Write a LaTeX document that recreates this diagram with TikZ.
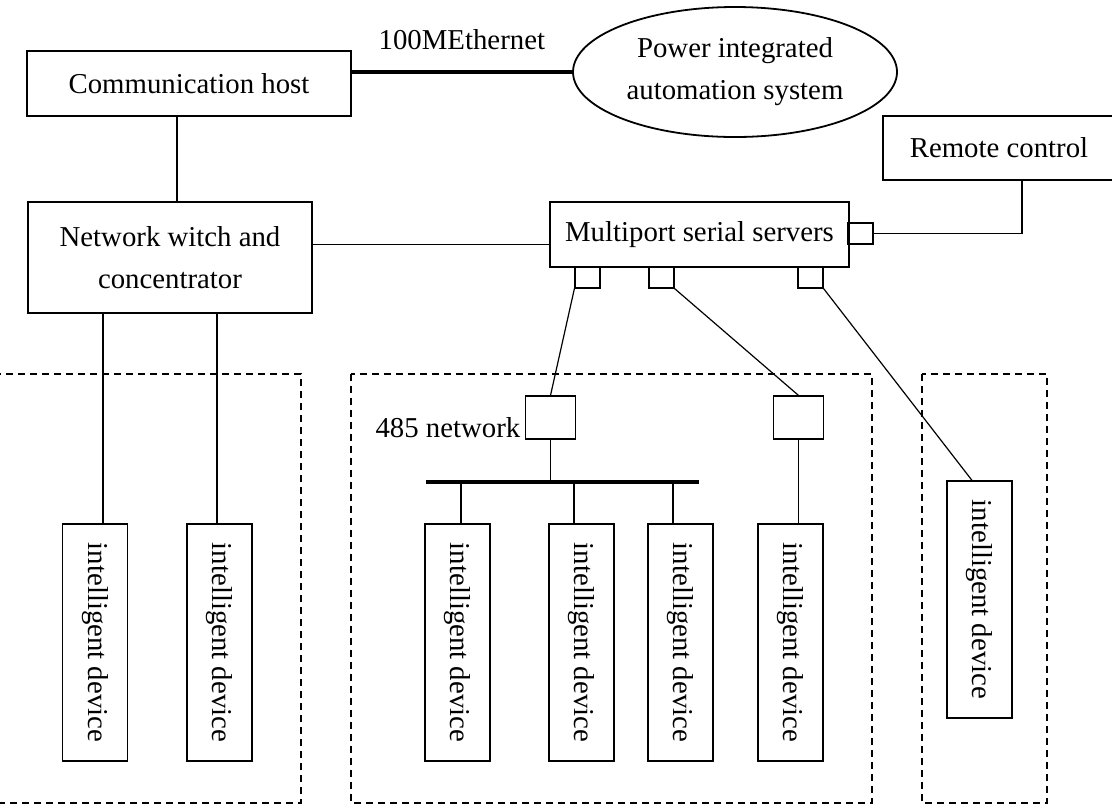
\documentclass[tikz,border=0pt]{standalone}
\usepackage{fontspec}
\setmainfont{Liberation Serif}
\usepackage{graphicx}
\usetikzlibrary{shapes.geometric}

\begin{document}
\begin{tikzpicture}[
  x=0.5pt, y=-0.5pt,
  line width=0.6pt,
  every node/.style={font=\fontsize{14.4}{21}\selectfont, inner sep=0pt},
  box/.style={draw, rectangle, align=center},
  port/.style={draw, minimum width=12.5pt, minimum height=10.5pt},
  conv/.style={draw, minimum width=25pt, minimum height=21.5pt},
  device/.style={draw, minimum width=32.5pt, minimum height=118.5pt},
  group/.style={dash pattern=on 3.5pt off 2.5pt},
  ethernet/.style={line width=1.7pt},
  bus/.style={line width=2pt}
]
  \useasboundingbox (0,0) rectangle (1112,805);

  \node[box, minimum width=162pt, minimum height=32.5pt] (host) at (189,83.5) {Communication host};
  \node[draw, ellipse, line width=0.9pt, minimum width=162pt, minimum height=65pt, align=center] (power) at (735,72) {Power integrated\\automation system};
  \node[box, minimum width=142pt, minimum height=55.5pt] (switch) at (170,257.5) {Network witch and\\concentrator};
  \node[box, minimum width=149.5pt, minimum height=32.5pt] (serial) at (699.5,234.5) {Multiport serial servers};
  \node[box, minimum width=116pt, minimum height=32pt] (remote) at (999,148) {Remote control};

  \node[port] (pR) at (860.5,233.5) {};
  \node[port] (p1) at (587.5,277.5) {};
  \node[port] (p2) at (661.5,277.5) {};
  \node[port] (p3) at (810.5,277.5) {};

  \node[conv] (b1) at (550.5,417.5) {};
  \node[conv] (b2) at (798.5,417.5) {};
  \node[anchor=east] (net485) at ([xshift=-2pt, yshift=-5.25pt]b1.west) {485 network};
  \coordinate (bus1) at (426,482);
  \coordinate (bus2) at (699,482);

  \node[device] (d1) at (95,642.5) {\rotatebox{-90}{intelligent device}};
  \node[device] (d2) at (219.5,642.5) {\rotatebox{-90}{intelligent device}};
  \node[device] (d3) at (457.5,642.5) {\rotatebox{-90}{intelligent device}};
  \node[device] (d4) at (581.5,642.5) {\rotatebox{-90}{intelligent device}};
  \node[device] (d5) at (680.5,642.5) {\rotatebox{-90}{intelligent device}};
  \node[device] (d6) at (790.5,642.5) {\rotatebox{-90}{intelligent device}};
  \node[device] (d7) at (979.5,599.5) {\rotatebox{-90}{intelligent device}};

  \draw[ethernet] (power.west) -- (power.west -| host.east) node[midway, above=10.5pt] (ethlabel) {100MEthernet};
  \draw ([xshift=-6pt]host.south) -- ([xshift=-6pt]host.south |- switch.north);
  \draw ([yshift=-5pt]serial.west) -- ([yshift=-5pt]serial.west -| switch.east);
  \draw (pR.east) -| ([xshift=11.5pt]remote.south);
  \draw (p1.south west) -- (b1.north);
  \draw (p2.south east) -- (b2.north);
  \draw (p3.south east) -- ([xshift=-3.75pt]d7.north);
  \draw (b1.south) -- (b1.south |- bus1);
  \draw[bus] (bus1) -- (bus2);
  \draw ([xshift=1.75pt]d3.north) -- ([xshift=1.75pt]d3.north |- bus1);
  \draw ([xshift=-3.75pt]d4.north) -- ([xshift=-3.75pt]d4.north |- bus1);
  \draw ([xshift=-3.75pt]d5.north) -- ([xshift=-3.75pt]d5.north |- bus1);
  \draw (b2.south) -- (b2.south |- d6.north);
  \draw ([xshift=4pt]d1.north) -- ([xshift=4pt]d1.north |- switch.south);
  \draw ([xshift=-1.25pt]d2.north) -- ([xshift=-1.25pt]d2.north |- switch.south);

  \draw[group] (-5,374) rectangle (301,803);
  \draw[group] (351,374) rectangle (872,803);
  \draw[group] (922,374) rectangle (1047,803);
\end{tikzpicture}
\end{document}
